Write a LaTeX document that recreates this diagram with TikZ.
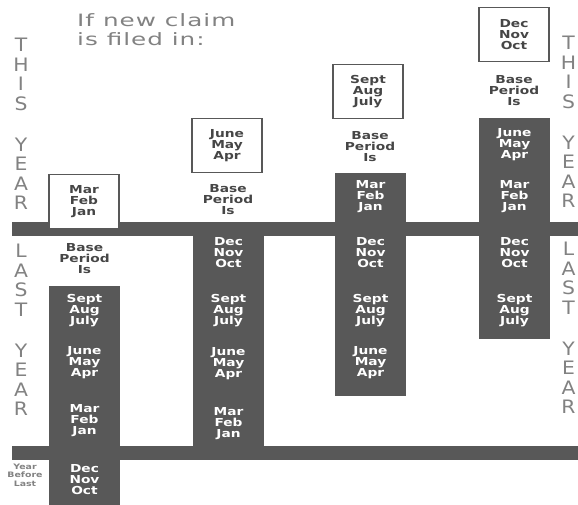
\documentclass[tikz,border=0pt]{standalone}
\usepackage{fontspec}
\usepackage{xcolor}
\setmainfont{DejaVu Sans}
\newfontfamily\monthfont[FakeStretch=1.25]{DejaVu Sans}
\newfontfamily\sidefont[FakeStretch=1.1]{DejaVu Sans}
\newfontfamily\headfont[FakeStretch=1.45,LetterSpace=6]{DejaVu Sans}
\definecolor{period}{RGB}{88,88,88}
\definecolor{label}{RGB}{130,130,130}
\definecolor{basetext}{RGB}{70,70,70}
\newcommand{\Monthfont}{\monthfont\bfseries\fontsize{11}{11}\selectfont}
\tikzstyle{column}=[fill=period, anchor=north, inner sep=0pt, minimum width=71pt]
\tikzstyle{bar}=[fill=period, anchor=west, inner sep=0pt, minimum height=14pt, minimum width=566pt]
\tikzstyle{filed}=[draw=period, fill=white, line width=1.1pt, minimum width=70pt, minimum height=54pt, anchor=north, inner sep=0pt, align=center, text=basetext, font=\Monthfont]
\tikzstyle{months}=[text=white, align=center, inner sep=0pt, font=\Monthfont]
\tikzstyle{base}=[text=basetext, align=center, inner sep=0pt, font=\Monthfont]
\tikzstyle{side}=[text=label, align=center, inner sep=0pt, font=\sidefont\fontsize{18.5}{19.4}\selectfont]

\begin{document}
\begin{tikzpicture}[x=1pt,y=-1pt]
  \useasboundingbox (0,0) rectangle (578,505);

  %% columns of base period quarters
  \draw (84.5,286) node[column,minimum height=219pt] (C1) {};
  \draw (228.5,222) node[column,minimum height=238pt] (C2) {};
  \draw (370.5,173) node[column,minimum height=223pt] (C3) {};
  \draw (514.5,118) node[column,minimum height=221pt] (C4) {};

  %% year bars
  \draw (12,229) node[bar] (thisbar) {};
  \draw (12,452.5) node[bar] (lastbar) {};

  %% quarter in which the claim is filed
  \draw (84,174) node[filed] (F1) {Mar\\Feb\\Jan};
  \draw (227,118) node[filed] (F2) {June\\May\\Apr};
  \draw (368,64) node[filed] (F3) {Sept\\Aug\\July};
  \draw (514,7) node[filed] (F4) {Dec\\Nov\\Oct};

  \draw (84.5,259) node[base] (B1) {Base\\Period\\Is};
  \draw (228,200) node[base] (B2) {Base\\Period\\Is};
  \draw (370,147) node[base] (B3) {Base\\Period\\Is};
  \draw (514,91) node[base] (B4) {Base\\Period\\Is};

  \draw (84.5,311) node[months] (M11) {Sept\\Aug\\July};
  \draw (84.5,363) node[months] (M12) {June\\May\\Apr};
  \draw (84.5,421) node[months] (M13) {Mar\\Feb\\Jan};
  \draw (84.5,480) node[months] (M14) {Dec\\Nov\\Oct};

  \draw (228.5,253) node[months] (M21) {Dec\\Nov\\Oct};
  \draw (228.5,311) node[months] (M22) {Sept\\Aug\\July};
  \draw (228.5,364) node[months] (M23) {June\\May\\Apr};
  \draw (228.5,424) node[months] (M24) {Mar\\Feb\\Jan};

  \draw (370.5,197) node[months] (M31) {Mar\\Feb\\Jan};
  \draw (370.5,253) node[months] (M32) {Dec\\Nov\\Oct};
  \draw (370.5,311) node[months] (M33) {Sept\\Aug\\July};
  \draw (370.5,363) node[months] (M34) {June\\May\\Apr};

  \draw (514.5,145) node[months] (M41) {June\\May\\Apr};
  \draw (514.5,197) node[months] (M42) {Mar\\Feb\\Jan};
  \draw (514.5,253) node[months] (M43) {Dec\\Nov\\Oct};
  \draw (514.5,311) node[months] (M44) {Sept\\Aug\\July};

  %% Legend things
  \draw (77,30) node[anchor=west,align=left,text=label,inner sep=0pt,font=\headfont\fontsize{17}{19}\selectfont] (head) {If new claim\\is filed in:};
  \draw (21,124) node[side] (thisL) {T\\H\\I\\S\\[22pt]Y\\E\\A\\R};
  \draw (21,330) node[side] (lastL) {L\\A\\S\\T\\[22pt]Y\\E\\A\\R};
  \draw (568.5,122) node[side] (thisR) {T\\H\\I\\S\\[22pt]Y\\E\\A\\R};
  \draw (568.5,328) node[side] (lastR) {L\\A\\S\\T\\[22pt]Y\\E\\A\\R};
  \draw (25,475) node[align=center,inner sep=0pt,text=label,font=\monthfont\bfseries\fontsize{7.5}{8.5}\selectfont] (before) {Year\\Before\\Last};
\end{tikzpicture}
\end{document}
